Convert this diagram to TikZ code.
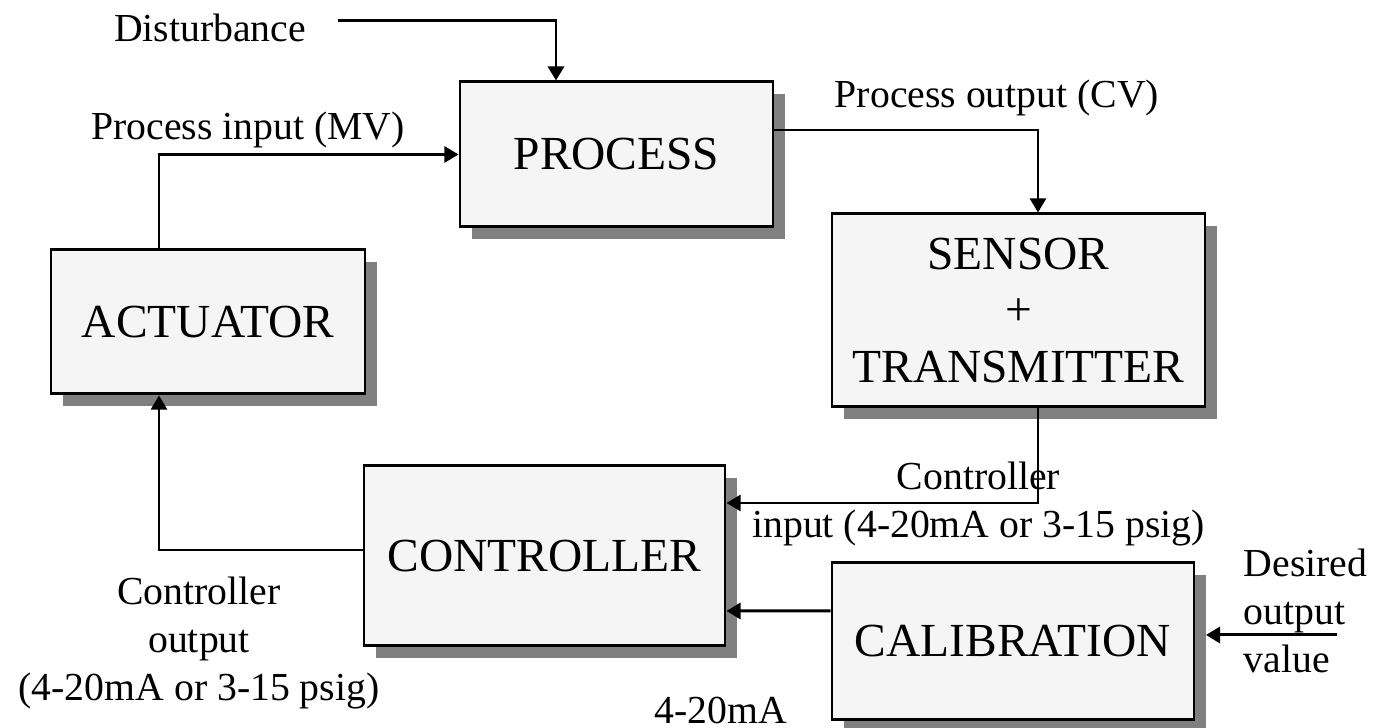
\documentclass[tikz,border=0pt]{standalone}
\usepackage{fontspec}
\setmainfont{Liberation Serif}
\usepackage{tikz}
\usetikzlibrary{arrows.meta,shadows}

\begin{document}
\begin{tikzpicture}[
	blk/.style = {draw, line width = 0.85pt, fill = black!4, inner sep = 0pt,
		drop shadow = {shadow xshift = 0.12cm, shadow yshift = -0.12cm, fill = black!50, opacity = 1},
		font = \fontsize{13.5}{16.2}\selectfont, align = center},
	lbl/.style = {inner sep = 0pt, font = \fontsize{11.3}{13.7}\selectfont},
	wire/.style = {line width = 0.6pt, -{Triangle[length = 4pt, width = 4.6pt]}},
	bold wire/.style = {wire, line width = 0.85pt}
	]
	\useasboundingbox (0, 0) rectangle (13.87, 7.28);
	% blocks
	\node[blk, minimum width = 3.13cm, minimum height = 1.45cm] (proc) at (6.165, 5.735) {PROCESS};
	\node[blk, minimum width = 3.14cm, minimum height = 1.44cm] (act) at (2.08, 4.06) {ACTUATOR};
	\node[blk, minimum width = 3.73cm, minimum height = 1.93cm] (sens) at (10.185, 4.175) {SENSOR\\+\\TRANSMITTER};
	\node[blk, minimum width = 3.61cm, minimum height = 1.80cm] (ctrl) at (5.445, 1.72) {CONTROLLER};
	\node[blk, minimum width = 3.62cm, minimum height = 1.57cm] (cal) at (10.13, 0.865) {CALIBRATION};
	% labels
	\node[lbl] (dist) at (2.10, 7.00) {Disturbance};
	\node[lbl] (mv) at (2.48, 5.98) {Process input (MV)};
	\node[lbl] (cv) at (9.97, 6.30) {Process output (CV)};
	\node[lbl, align = center] (cin) at (9.785, 2.24) {Controller\\input (4-20mA or 3-15 psig)};
	\node[lbl, align = center] (cout) at (1.99, 0.85) {Controller\\output\\(4-20mA or 3-15 psig)};
	\node[lbl] (ma) at (7.21, 0.17) {4-20mA};
	\node[lbl, align = left, anchor = west] (sp) at (12.43, 1.17) {Desired\\output\\value};
	\coordinate (dstart) at (3.38, 7.07);
	\coordinate (spstart) at (13.37, 0.93);
	\coordinate (spend) at (12.06, 0.93);
	% connections
	\draw[bold wire] (dstart) -| ([xshift = -0.605cm]proc.north);
	\draw[wire] ([xshift = -0.49cm]act.north) |- (proc.west);
	\draw[wire] ([yshift = 0.245cm]proc.east) -| ([xshift = 0.195cm]sens.north);
	\draw[wire] ([xshift = 0.195cm]sens.south) |- ([yshift = 0.53cm]ctrl.east);
	\draw[bold wire] ([yshift = 0.305cm]cal.west) -- ([yshift = -0.55cm]ctrl.east);
	\draw[wire] ([yshift = 0.06cm]ctrl.west) -| ([xshift = -0.49cm]act.south);
	\draw[bold wire] (spstart) -- (spend);
\end{tikzpicture}
\end{document}
